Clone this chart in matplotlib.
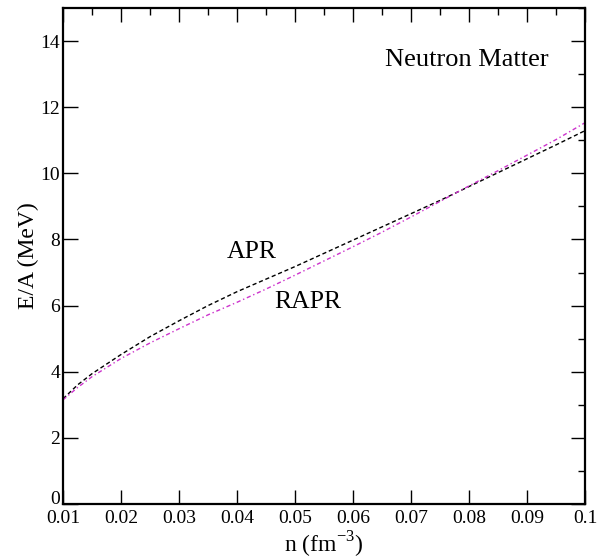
import matplotlib
matplotlib.use("Agg")
import matplotlib.pyplot as plt
import matplotlib.transforms as mtransforms
from matplotlib.ticker import MultipleLocator

n = [0.010, 0.0125, 0.015, 0.020, 0.025, 0.030, 0.035, 0.040, 0.045, 0.050, 0.055,
     0.060, 0.065, 0.070, 0.075, 0.080, 0.085, 0.090, 0.095, 0.100]
apr = [3.18, 3.60, 3.94, 4.52, 5.06, 5.54, 6.00, 6.42, 6.80, 7.18, 7.58,
       7.98, 8.38, 8.78, 9.18, 9.60, 10.02, 10.44, 10.86, 11.29]
rapr = [3.15, 3.52, 3.85, 4.40, 4.87, 5.30, 5.72, 6.10, 6.50, 6.92, 7.35,
        7.78, 8.22, 8.68, 9.15, 9.62, 10.08, 10.55, 11.02, 11.53]

xticks = [0.01, 0.02, 0.03, 0.04, 0.05, 0.06, 0.07, 0.08, 0.09, 0.1]
xticklabels = ["0.01", "0.02", "0.03", "0.04", "0.05", "0.06", "0.07", "0.08", "0.09", "0.1"]
yticks = [0, 2, 4, 6, 8, 10, 12, 14]

W, H = 598, 560
fig = plt.figure(figsize=(W / 100, H / 100), dpi=100)
plt.rcParams['font.family'] = ['Liberation Serif', 'DejaVu Serif']
L, R, T, B = 63, 585, 8, 504
ax = fig.add_axes([L / W, (H - B) / H, (R - L) / W, (B - T) / H])

ax.plot(n, apr, color='black', lw=1.0, dashes=(3, 2))
ax.plot(n, rapr, color='#cc33cc', lw=1.0, dashes=(3, 2, 1, 2))

ax.set_xlim(0.01, 0.1)
ax.set_ylim(0, 15)

for s in ax.spines.values():
    s.set_linewidth(1.6)

ax.set_xticks(xticks)
ax.set_xticklabels(xticklabels, fontsize=14)
ax.set_yticks(yticks)
ax.set_yticklabels([str(v) for v in yticks], fontsize=14)
ax.tick_params(axis='x', which='major', direction='in', length=10, width=1.0,
               top=False, pad=4)
ax.tick_params(axis='y', which='major', direction='in', length=11, width=1.0,
               right=False, pad=2)

# raise the "0" label slightly, as in the reference
lab0 = ax.get_yticklabels()[0]
lab0.set_transform(lab0.get_transform() +
                   mtransforms.ScaledTranslation(0, 5 / 72, fig.dpi_scale_trans))

axt = ax.secondary_xaxis('top')
axt.set_xticks(xticks)
axt.xaxis.set_minor_locator(MultipleLocator(0.005))
axt.tick_params(which='major', direction='in', length=10, width=1.0, labeltop=False)
axt.tick_params(which='minor', direction='in', length=5, width=1.0)
axt.spines['top'].set_visible(False)

axr = ax.secondary_yaxis('right')
axr.set_yticks(yticks)
axr.yaxis.set_minor_locator(MultipleLocator(1))
axr.tick_params(which='major', direction='in', length=10, width=1.0, labelright=False)
axr.tick_params(which='minor', direction='in', length=5, width=1.0)
axr.spines['right'].set_visible(False)

ax.set_xlabel(r"n (fm$^{\mathregular{-3}}$)", fontsize=17, labelpad=2)
ax.set_ylabel("E/A (MeV)", fontsize=17, labelpad=1)

ax.text(0.0383, 7.45, "APR", fontsize=18.5, ha='left', va='baseline')
ax.text(0.0465, 5.92, "RAPR", fontsize=18.5, ha='left', va='baseline')
ax.text(0.0655, 13.25, "Neutron Matter", fontsize=19, ha='left', va='baseline')

fig.savefig("out.png", dpi=100)
